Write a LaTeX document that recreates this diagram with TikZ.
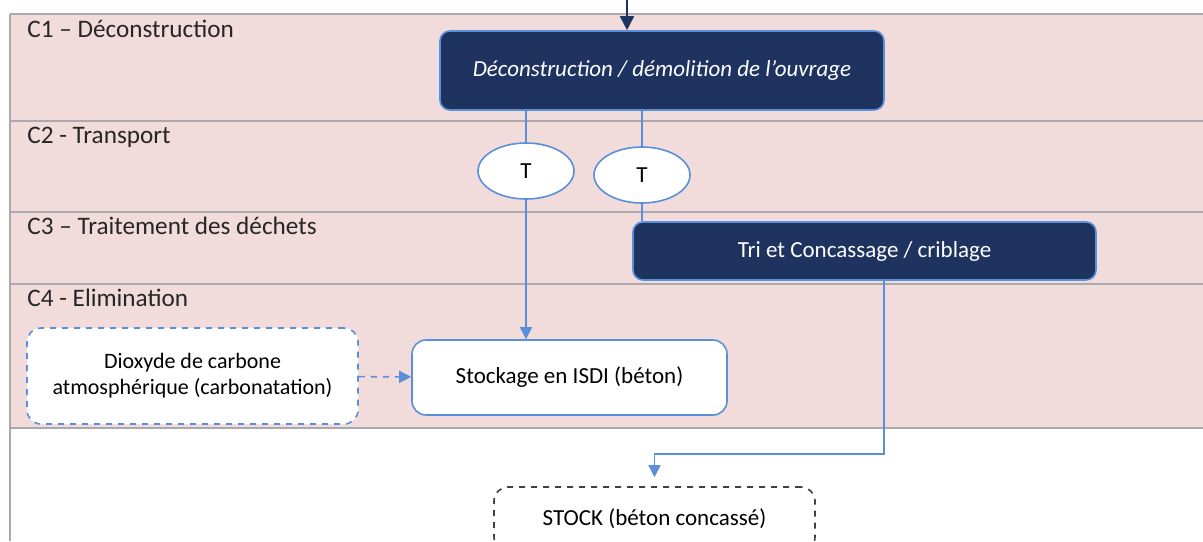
\documentclass[tikz,border=0pt]{standalone}
\usepackage{fontspec}
\setmainfont{Carlito}
\usetikzlibrary{calc,shapes.geometric,arrows.meta}
\definecolor{rose}{HTML}{F2DCDB}
\definecolor{marine}{HTML}{1F3360}
\definecolor{bleu}{HTML}{5A8FDA}
\definecolor{trait}{HTML}{A9A9AE}
\definecolor{texte}{HTML}{262626}

\begin{document}
\begin{tikzpicture}[x=0.5pt,y=-0.5pt,
  every node/.style={font=\fontsize{11.5}{13}\selectfont},
  etape/.style={rectangle, rounded corners=5pt, fill=marine, draw=bleu, line width=0.8pt, text=white, inner sep=0pt},
  boite/.style={rectangle, rounded corners=7pt, fill=white, draw=bleu, line width=0.8pt, text=black, inner sep=0pt, align=center},
  camion/.style={ellipse, fill=white, draw=bleu, line width=0.8pt, inner sep=0pt, minimum width=48pt, minimum height=28pt},
  bande/.style={text=texte, anchor=base west, inner sep=0pt, font=\fontsize{12.6}{14}\selectfont},
  fleche/.style={draw=bleu, line width=0.8pt, -{Triangle[length=6pt,width=6pt]}},
  lien/.style={draw=bleu, line width=0.8pt}]

 \useasboundingbox (0,0) rectangle (1203,541);

 % les bandes
 \fill[rose] (10,14) rectangle (1203,428);
 \draw[trait, line width=1.2pt] (10,14) -- (1203,14);
 \draw[trait, line width=0.8pt] (10,121) -- (1203,121);
 \draw[trait, line width=0.8pt] (10,212) -- (1203,212);
 \draw[trait, line width=0.8pt] (10,284) -- (1203,284);
 \draw[trait, line width=0.8pt] (10,428) -- (1203,428);
 \draw[trait, line width=0.8pt] (10,14) -- (10,541);

 \node[bande] (c1) at (27,37) {C1 – Déconstruction};
 \node[bande] (c2) at (27,143) {C2 - Transport};
 \node[bande] (c3) at (27,234) {C3 – Traitement des déchets};
 \node[bande] (c4) at (27,306) {C4 - Elimination};

 % les etapes
 \node[etape, minimum width=222pt, minimum height=39.5pt] (demo) at (662,70.5) {\itshape Déconstruction / démolition de l’ouvrage};
 \node[camion] (t1) at (526,171) {T};
 \node[camion] (t2) at (642,175) {T};
 \node[etape, minimum width=231.5pt, minimum height=29pt] (tri) at (864.5,251) {Tri et Concassage / criblage};
 \node[boite, minimum width=157.5pt, minimum height=37.5pt] (isdi) at (569.5,377.5) {Stockage en ISDI (béton)};
 \node[boite, dashed, minimum width=165.5pt, minimum height=48pt, font=\fontsize{11}{13}\selectfont] (co2) at (192.5,376) {Dioxyde de carbone\\atmosphérique (carbonatation)};
 \node[boite, draw=black!75, dashed, minimum width=160.5pt, minimum height=32pt] (stock) at (654.5,519) {STOCK (béton concassé)};

 \coordinate (entree) at (627,0);
 \coordinate (coude) at (884,454);

 % les liens
 \draw[fleche, draw=marine, -{Triangle[length=7pt,width=7pt]}, fill=marine] (entree) -- (entree |- demo.north);
 \draw[lien] (demo.south -| t1.north) -- (t1.north);
 \draw[fleche] (t1.south) -- (t1.south |- isdi.north);
 \draw[lien] (demo.south -| t2.north) -- (t2.north);
 \draw[lien] (t2.south) -- (t2.south |- tri.north);
 \draw[fleche] (tri.south -| coude) -- (coude) -| ($(stock.north)+(0,-9)$);
 \draw[fleche, dashed] (co2) -- (isdi);

\end{tikzpicture}
\end{document}
